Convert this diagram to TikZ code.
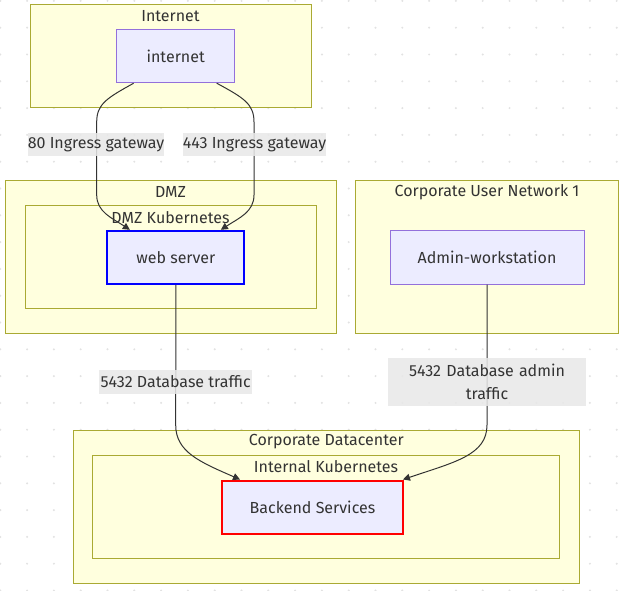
\documentclass[tikz,border=0pt]{standalone}
\usepackage{fontspec}
\setmainfont{Fira Sans}
\usetikzlibrary{arrows.meta,calc}
\definecolor{clfill}{HTML}{FFFFDE}
\definecolor{clline}{HTML}{AAAA33}
\definecolor{ndfill}{HTML}{ECECFF}
\definecolor{ndline}{HTML}{9370DB}
\definecolor{txt}{HTML}{333333}
\definecolor{lblbg}{HTML}{E8E8E8}
\definecolor{dotc}{HTML}{E2E2E2}
\tikzset{
  cluster/.style={fill=clfill,draw=clline,line width=1pt},
  cltitle/.style={text=txt,font=\fontsize{16}{19}\selectfont,inner sep=0pt,anchor=center},
  box/.style={fill=ndfill,draw=ndline,line width=1pt,text=txt,font=\fontsize{16}{19}\selectfont,inner sep=0pt,anchor=center},
  edgelbl/.style={fill=lblbg,fill opacity=0.85,text opacity=1,text=txt,font=\fontsize{16}{19}\selectfont,inner sep=0pt,anchor=center},
  conn/.style={draw=txt,line width=1pt,-{Triangle[length=7pt,width=7pt]}}
}
\begin{document}
\begin{tikzpicture}[x=1pt,y=-1pt]
\useasboundingbox (0,0) rectangle (624,591);
\fill[white] (0,0) rectangle (624,591);
\foreach \i in {0,...,23}{\foreach \j in {0,...,22}{\fill[dotc] ({0.3+26.8*\i},{0.9+26.8*\j}) circle (1.1pt);}}
% clusters
\path[cluster] (30,4.7) rectangle (311,107.7);
\node[cltitle] (tInternet) at (170.5,16) {Internet};
\path[cluster] (5,181) rectangle (336,333);
\node[cltitle] (tDMZ) at (170.5,192) {DMZ};
\path[cluster] (25,205.7) rectangle (316,308.3);
\node[cltitle] (tDMZK) at (170.5,217.5) {DMZ Kubernetes};
\path[cluster] (355.7,181) rectangle (618.3,333);
\node[cltitle] (tCUN) at (487,192) {Corporate User Network 1};
\path[cluster] (73.3,430) rectangle (579.3,583.3);
\node[cltitle] (tCDC) at (326.3,442) {Corporate Datacenter};
\path[cluster] (92.7,455.7) rectangle (559.3,558.7);
\node[cltitle] (tIK) at (326,467) {Internal Kubernetes};
% nodes
\node[box,minimum width=118pt,minimum height=53.4pt] (inet) at (175.7,56) {internet};
\node[box,draw=blue,line width=2pt,minimum width=137pt,minimum height=53pt] (web) at (175.85,257.3) {web server};
\node[box,minimum width=194pt,minimum height=54pt] (admin) at (487,257) {Admin-workstation};
\node[box,draw=red,line width=2pt,minimum width=180.6pt,minimum height=53pt] (backend) at (312.5,507) {Backend Services};
% connectors
\draw[conn] ([xshift=-42pt]inet.south) .. controls (107,98) and (96.7,104) .. (96.7,122)
  -- (96.7,195) .. controls (96.7,212) and (112,218) .. ([xshift=-46pt]web.north);
\draw[conn] ([xshift=41pt]inet.south) .. controls (244,98) and (254,104) .. (254,122)
  -- (254,195) .. controls (254,212) and (239,218) .. ([xshift=45pt]web.north);
\draw[conn] (web.south) -- (175.7,425) .. controls (175.7,452) and (200,462) .. ([xshift=-72.5pt]backend.north);
\draw[conn] (admin.south) -- (487,425) .. controls (487,455) and (455,462) .. ([xshift=90.5pt]backend.north);
% edge labels
\node[edgelbl,minimum width=134pt,minimum height=23pt] (l80) at (96,144.5) {80 Ingress gateway};
\node[edgelbl,minimum width=143pt,minimum height=23pt] (l443) at (254.5,144.5) {443 Ingress gateway};
\node[edgelbl,minimum width=153pt,minimum height=24pt] (ldb) at (175.7,382) {5432 Database traffic};
\node[edgelbl,minimum width=198pt,minimum height=47.4pt,align=center,text width=190pt,font=\fontsize{16}{23}\selectfont] (ladm) at (487,382) {5432 Database admin\\traffic};
\end{tikzpicture}
\end{document}
